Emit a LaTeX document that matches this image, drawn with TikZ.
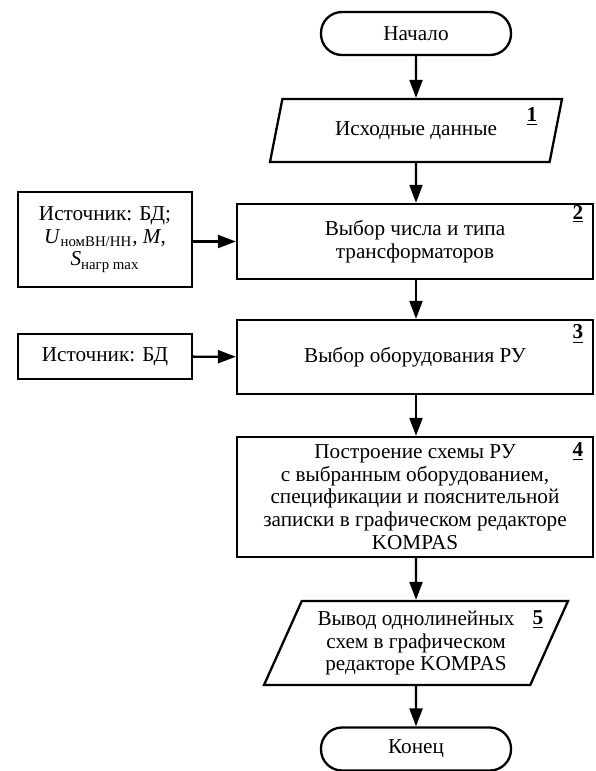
\documentclass[tikz,border=0pt]{standalone}
\usepackage{fontspec}
\setmainfont{Liberation Serif}
\usetikzlibrary{arrows.meta,shapes.geometric,calc}

\begin{document}
\begin{tikzpicture}[x=0.5pt,y=-0.5pt]

\tikzstyle{fcbase} = [draw=black,line width=1.15pt,fill=white,align=center,inner sep=2pt,font=\fontsize{10.6}{11.3}\selectfont]%
\tikzstyle{fcterm} = [fcbase, rectangle, rounded corners=10.5pt, minimum width=95pt, minimum height=21.5pt]%
\tikzstyle{fcio} = [fcbase, trapezium, trapezium stretches body]%
\tikzstyle{fcstep} = [fcbase, rectangle, minimum width=178pt]%
\tikzstyle{fcsrc} = [fcbase, rectangle, minimum width=87pt]%
\tikzstyle{fcarc} = [-{Triangle[length=9pt,width=6.5pt]},line width=1.15pt]%
\tikzstyle{stepno} = [inner sep=0pt,font=\fontsize{10.6}{11.3}\selectfont\bfseries]%

\useasboundingbox (0,0) rectangle (595,771);

\node[fcterm] (start) at (416, 33.5) {Начало};
\node[fcio, minimum width=146pt, minimum height=31.5pt,
      trapezium left angle=64.5, trapezium right angle=115.5] (in1) at (416, 130.5) {Исходные данные};
\node[fcstep, minimum height=37.5pt] (sel2) at (415, 241.5) {Выбор числа и типа\\трансформаторов};
\node[fcstep, minimum height=37pt] (sel3) at (415, 357) {Выбор оборудования РУ};
\node[fcstep, minimum height=60pt] (sch4) at (415, 497)
    {Построение схемы РУ\\с выбранным оборудованием,\\спецификации и пояснительной\\записки в графическом редакторе\\KOMPAS};
\node[fcio, minimum width=152pt, minimum height=42pt,
      trapezium left angle=62.4, trapezium right angle=117.6] (out5) at (416, 643)
    {Вывод однолинейных\\схем в графическом\\редакторе KOMPAS};
\node[fcterm] (stop) at (416, 749) {Конец};

\node[fcsrc, minimum height=47.5pt] (src2) at (105, 239.5)
    {Источник: БД;\\\textit{U}\textsubscript{номВН/НН}, \textit{M},\\\textit{S}\textsubscript{нагр max}};
\node[fcsrc, minimum height=22.5pt] (src3) at (105, 356.5) {Источник: БД};

% step numbers
\node[stepno] (n1) at (532, 117) {\underline{1}};
\node[stepno] (n2) at (578, 214) {\underline{2}};
\node[stepno] (n3) at (578, 334) {\underline{3}};
\node[stepno] (n4) at (578, 452) {\underline{4}};
\node[stepno] (n5) at (538, 620) {\underline{5}};

\draw[fcarc] (start) -- (in1);
\draw[fcarc] (in1) -- (in1 |- sel2.north);
\draw[fcarc] (sel2.south -| in1) -- (in1 |- sel3.north);
\draw[fcarc] (sel3.south -| in1) -- (in1 |- sch4.north);
\draw[fcarc] (sch4.south -| in1) -- (out5);
\draw[fcarc] (out5) -- (stop);

\draw[fcarc] (src2.east |- sel2.west) -- (sel2.west);
\draw[fcarc] (src3) -- (sel3);

\end{tikzpicture}
\end{document}
